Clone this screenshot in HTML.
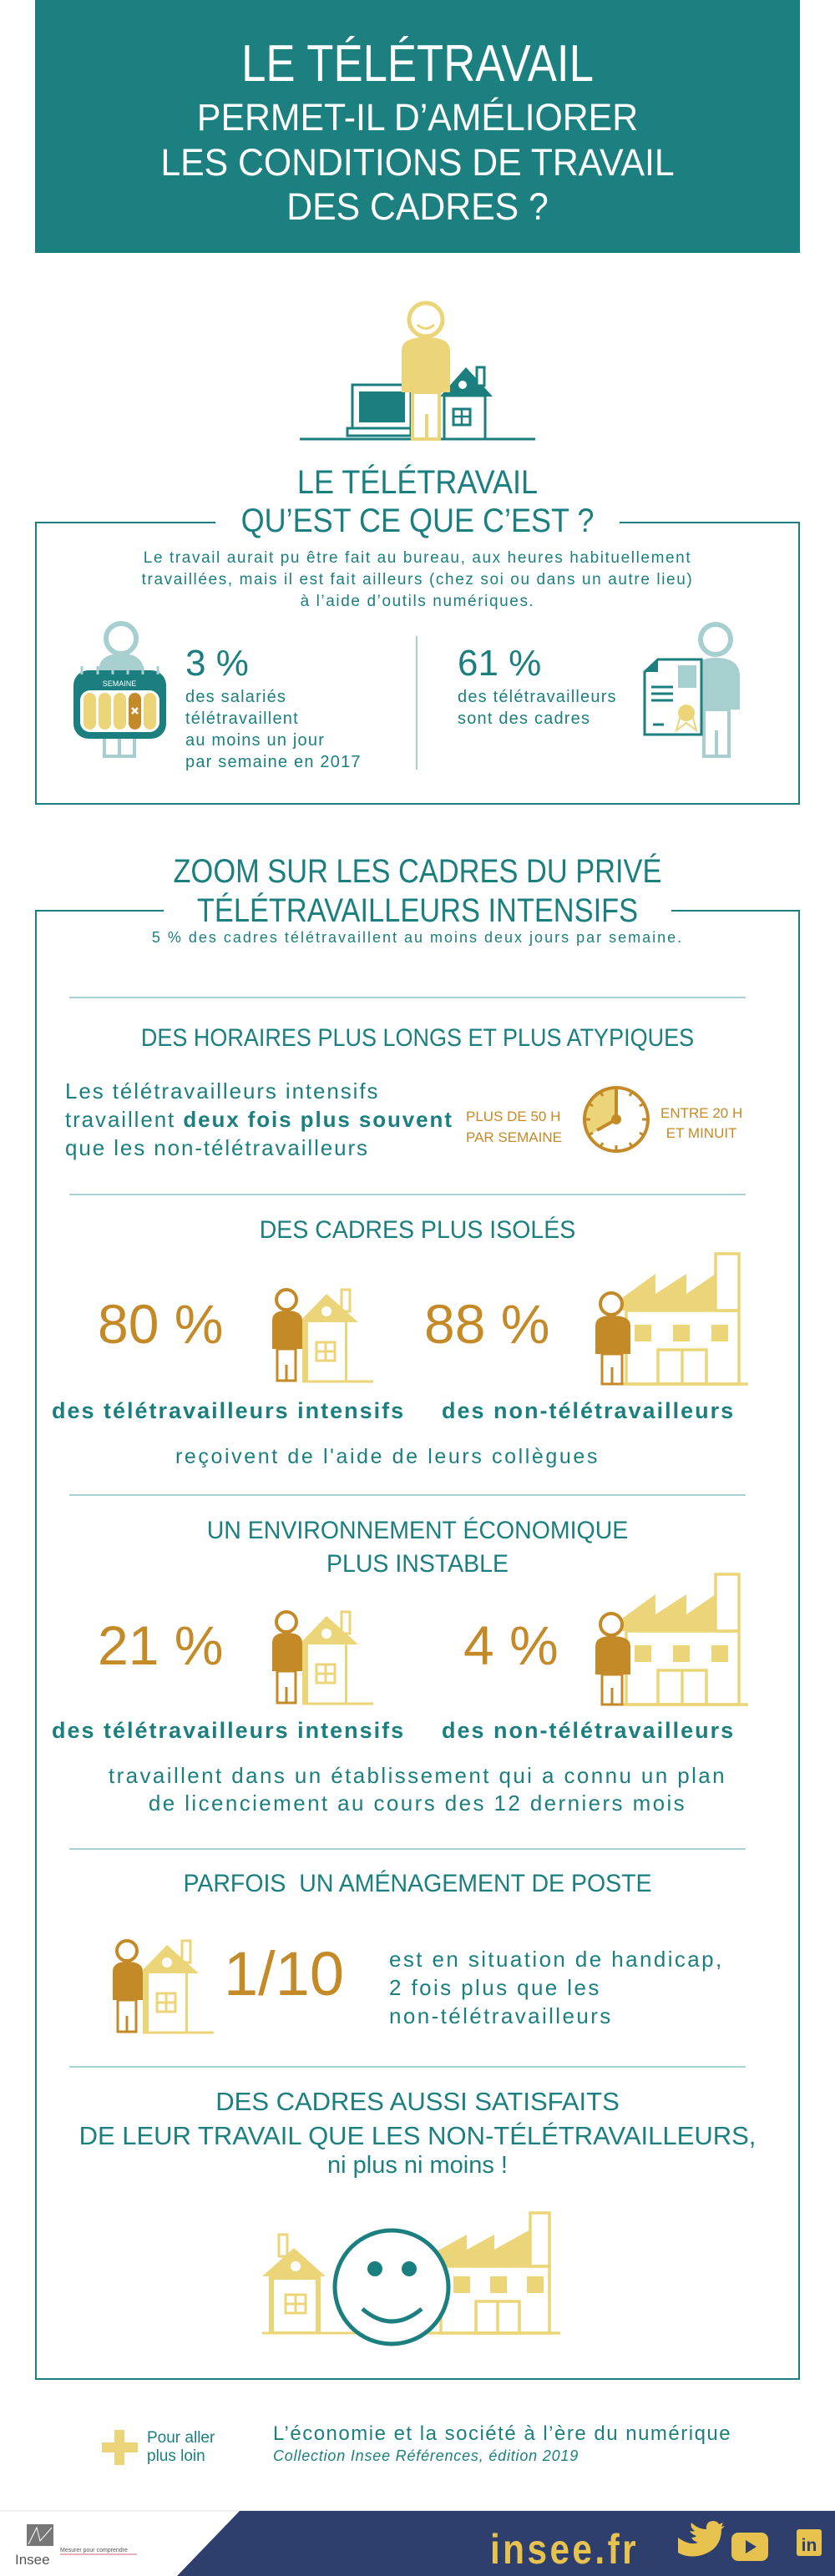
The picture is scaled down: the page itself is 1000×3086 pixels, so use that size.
<!DOCTYPE html>
<html><head><meta charset="utf-8">
<style>
*{margin:0;padding:0;box-sizing:border-box}
body{width:1000px;height:3086px;position:relative;background:#fff;font-family:"Liberation Sans",sans-serif;color:#1b7f80;overflow:hidden}
.a{position:absolute;white-space:nowrap;line-height:1}
.c{left:0;width:1000px;text-align:center}
.n{transform:scaleX(0.85);transform-origin:500px 0}
.k{transform:scaleX(0.9);transform-origin:500px 0}
.z{transform:scaleX(0.86);transform-origin:500px 0}
.m{transform:scaleX(0.95);transform-origin:500px 0}
.h{transform:scaleX(0.9);transform-origin:500px 0}
.g{color:#c48a27}
.hr{position:absolute;left:83px;width:810px;height:2px;background:#a7d2d3}
svg{position:absolute;left:0;top:0}
</style></head><body>

<div style="position:absolute;left:42px;top:0;width:916px;height:303px;background:#1d8080"></div>
<div class="a c n" style="top:46px;font-size:62px;color:#fff">LE TÉLÉTRAVAIL</div>
<div class="a c m" style="top:118px;font-size:45px;color:#fff">PERMET-IL D’AMÉLIORER</div>
<div class="a c m" style="top:172px;font-size:45px;color:#fff">LES CONDITIONS DE TRAVAIL</div>
<div class="a c m" style="top:225px;font-size:45px;color:#fff">DES CADRES ?</div>

<div class="a c k" style="top:558px;font-size:40px">LE TÉLÉTRAVAIL</div>
<div class="a c k" style="top:604px;font-size:40px">QU’EST CE QUE C’EST ?</div>
<div class="a c" style="top:656px;font-size:19px;line-height:26px;letter-spacing:1.6px">Le travail aurait pu être fait au bureau, aux heures habituellement<br>travaillées, mais il est fait ailleurs (chez soi ou dans un autre lieu)<br>à l’aide d’outils numériques.</div>
<div class="a" style="left:222px;top:773px;font-size:44px">3 %</div>
<div class="a" style="left:222px;top:822px;font-size:20px;line-height:26px;letter-spacing:1.2px">des salariés<br>télétravaillent<br>au moins un jour<br>par semaine en 2017</div>
<div class="a" style="left:548px;top:773px;font-size:44px">61 %</div>
<div class="a" style="left:548px;top:822px;font-size:20px;line-height:26px;letter-spacing:1.2px">des télétravailleurs<br>sont des cadres</div>

<div class="a c z" style="top:1024px;font-size:40px">ZOOM SUR LES CADRES DU PRIVÉ</div>
<div class="a c z" style="top:1071px;font-size:40px">TÉLÉTRAVAILLEURS INTENSIFS</div>
<div class="a c" style="top:1114px;font-size:18px;letter-spacing:2px">5 % des cadres télétravaillent au moins deux jours par semaine.</div>
<div class="hr" style="top:1194px"></div>
<div class="a c h" style="top:1229px;font-size:30px">DES HORAIRES PLUS LONGS ET PLUS ATYPIQUES</div>
<div class="a" style="left:78px;top:1290px;font-size:26px;line-height:34px;letter-spacing:1.9px">Les télétravailleurs intensifs<br>travaillent <b>deux fois plus souvent</b><br>que les non-télétravailleurs</div>
<div class="a g" style="left:558px;top:1325px;font-size:17px;line-height:25px">PLUS DE 50 H<br>PAR SEMAINE</div>
<div class="a g" style="left:791px;top:1322px;font-size:17px;line-height:24px;text-align:center">ENTRE 20 H<br>ET MINUIT</div>
<div class="hr" style="top:1430px"></div>
<div class="a c m" style="top:1459px;font-size:30px">DES CADRES PLUS ISOLÉS</div>
<div class="a g" style="left:117px;top:1553px;font-size:66px">80 %</div>
<div class="a g" style="left:508px;top:1553px;font-size:66px">88 %</div>
<div class="a" style="left:62px;top:1677px;font-size:27px;font-weight:bold;letter-spacing:2px">des télétravailleurs intensifs</div>
<div class="a" style="left:529px;top:1677px;font-size:27px;font-weight:bold;letter-spacing:2px">des non-télétravailleurs</div>
<div class="a" style="left:210px;top:1733px;font-size:25px;letter-spacing:2.6px">reçoivent de l'aide de leurs collègues</div>
<div class="hr" style="top:1790px"></div>
<div class="a c m" style="top:1819px;font-size:30px">UN ENVIRONNEMENT ÉCONOMIQUE</div>
<div class="a c m" style="top:1859px;font-size:30px">PLUS INSTABLE</div>
<div class="a g" style="left:117px;top:1938px;font-size:66px">21 %</div>
<div class="a g" style="left:555px;top:1938px;font-size:66px">4 %</div>
<div class="a" style="left:62px;top:2060px;font-size:27px;font-weight:bold;letter-spacing:2px">des télétravailleurs intensifs</div>
<div class="a" style="left:529px;top:2060px;font-size:27px;font-weight:bold;letter-spacing:2px">des non-télétravailleurs</div>
<div class="a c" style="top:2111px;font-size:26px;line-height:33px;letter-spacing:2.4px">travaillent dans un établissement qui a connu un plan<br>de licenciement au cours des 12 derniers mois</div>
<div class="hr" style="top:2214px"></div>
<div class="a c m" style="top:2242px;font-size:30px">PARFOIS&nbsp; UN AMÉNAGEMENT DE POSTE</div>
<div class="a g" style="left:268px;top:2328px;font-size:74px">1/10</div>
<div class="a" style="left:466px;top:2330px;font-size:26px;line-height:34px;letter-spacing:2.4px">est en situation de handicap,<br>2 fois plus que les<br>non-télétravailleurs</div>
<div class="hr" style="top:2475px"></div>
<div class="a c" style="top:2502px;font-size:31px">DES CADRES AUSSI SATISFAITS</div>
<div class="a c" style="top:2543px;font-size:31px">DE LEUR TRAVAIL QUE LES NON-TÉLÉTRAVAILLEURS,</div>
<div class="a c" style="top:2580px;font-size:29px">ni plus ni moins !</div>

<div class="a" style="left:176px;top:2910px;font-size:19px;line-height:22px">Pour aller<br>plus loin</div>
<div class="a" style="left:327px;top:2904px;font-size:24px;letter-spacing:1.5px">L’économie et la société à l’ère du numérique</div>
<div class="a" style="left:327px;top:2933px;font-size:18px;font-style:italic;letter-spacing:0.8px">Collection Insee Références, édition 2019</div>

<svg width="1000" height="3086" viewBox="0 0 1000 3086">
<defs>
<g id="house">
 <circle cx="24" cy="17" r="12" fill="none" stroke="#c48a27" stroke-width="4"/>
 <path d="M7 42 Q7 30 24 30 Q43 30 43 42 V76 H7Z" fill="#c48a27"/>
 <rect x="13" y="76" width="22" height="38" fill="none" stroke="#c48a27" stroke-width="3"/>
 <line x1="24" y1="95" x2="24" y2="114" stroke="#c48a27" stroke-width="3"/>
 <path d="M43 40 L72 10 L110 44 H97 V116 H43Z" fill="#ecd579"/>
 <rect x="50" y="44" width="44" height="70" fill="#fff"/>
 <rect x="90" y="5" width="10" height="26" fill="none" stroke="#ecd579" stroke-width="3"/>
 <circle cx="72" cy="31" r="6" fill="#fff"/>
 <rect x="60" y="68" width="22" height="22" fill="none" stroke="#ecd579" stroke-width="3"/>
 <line x1="71" y1="68" x2="71" y2="90" stroke="#ecd579" stroke-width="3"/>
 <line x1="60" y1="79" x2="82" y2="79" stroke="#ecd579" stroke-width="3"/>
 <line x1="43" y1="115" x2="128" y2="115" stroke="#ecd579" stroke-width="3"/>
</g>
<g id="fact">
 <rect x="157" y="12" width="28" height="68" fill="none" stroke="#ecd579" stroke-width="3.5"/>
 <path d="M45 65 L85 36 V60 L122 36 V60 L157 36 V80 H45Z" fill="#ecd579"/>
 <rect x="50" y="80" width="135" height="88" fill="none" stroke="#ecd579" stroke-width="3.5"/>
 <rect x="60" y="97" width="20" height="20" fill="#ecd579"/>
 <rect x="106" y="97" width="20" height="20" fill="#ecd579"/>
 <rect x="152" y="97" width="20" height="20" fill="#ecd579"/>
 <rect x="88" y="127" width="58" height="41" fill="none" stroke="#ecd579" stroke-width="3.5"/>
 <line x1="117" y1="127" x2="117" y2="168" stroke="#ecd579" stroke-width="3.5"/>
 <line x1="45" y1="168" x2="196" y2="168" stroke="#ecd579" stroke-width="3.5"/>
 <circle cx="32" cy="72" r="13" fill="#fff" stroke="#c48a27" stroke-width="4"/>
 <path d="M13 98 Q13 86 32 86 Q55 86 55 98 V132 H13Z" fill="#c48a27"/>
 <rect x="21" y="132" width="24" height="36" fill="none" stroke="#c48a27" stroke-width="3"/>
 <line x1="33" y1="148" x2="33" y2="168" stroke="#c48a27" stroke-width="3"/>
</g>
</defs>
<path d="M258 626 H43 V963 H957 V626 H742" fill="none" stroke="#1b7f80" stroke-width="2"/>
<path d="M196 1091 H43 V2850 H957 V1091 H804" fill="none" stroke="#1b7f80" stroke-width="2"/>
<line x1="499" y1="762" x2="499" y2="922" stroke="#a7cfd0" stroke-width="2"/>
<line x1="359" y1="526" x2="641" y2="526" stroke="#1b7f80" stroke-width="3"/>
<rect x="422" y="461" width="70" height="52" fill="none" stroke="#1b7f80" stroke-width="3"/>
<rect x="430" y="469" width="55" height="37" fill="#1b7f80"/>
<rect x="416" y="513" width="76" height="9" fill="none" stroke="#1b7f80" stroke-width="3"/>
<path d="M527 475 L558 440 L590 475Z" fill="#1b7f80"/>
<rect x="571" y="440" width="9" height="22" fill="#fff" stroke="#1b7f80" stroke-width="3"/>
<circle cx="554" cy="461" r="5" fill="#fff"/>
<rect x="532" y="474" width="49" height="52" fill="none" stroke="#1b7f80" stroke-width="3"/>
<rect x="543" y="490" width="20" height="19" fill="none" stroke="#1b7f80" stroke-width="3"/>
<line x1="553" y1="490" x2="553" y2="509" stroke="#1b7f80" stroke-width="2.5"/>
<line x1="543" y1="499" x2="563" y2="499" stroke="#1b7f80" stroke-width="2.5"/>
<circle cx="510" cy="383" r="20" fill="#fff" stroke="#ecd579" stroke-width="5"/>
<path d="M500 389 Q510 398 520 389" fill="none" stroke="#ecd579" stroke-width="3"/>
<path d="M481 420 Q481 404 510 404 Q539 404 539 420 V470 H481Z" fill="#ecd579"/>
<rect x="494" y="470" width="32" height="56" fill="none" stroke="#ecd579" stroke-width="4"/>
<line x1="511" y1="496" x2="511" y2="526" stroke="#ecd579" stroke-width="4"/>
<circle cx="145" cy="765" r="18" fill="none" stroke="#a7cfd0" stroke-width="6"/>
<path d="M118 805 Q118 783 145 783 Q172 783 172 805Z" fill="#a7cfd0"/>
<rect x="125" y="882" width="36" height="24" fill="none" stroke="#a7cfd0" stroke-width="4"/>
<line x1="143" y1="882" x2="143" y2="906" stroke="#a7cfd0" stroke-width="4"/>
<rect x="88" y="803" width="111" height="82" rx="18" fill="#1b7f80"/>
<g stroke="#a7cfd0" stroke-width="3"><line x1="98" y1="798" x2="98" y2="808"/><line x1="117" y1="798" x2="117" y2="808"/><line x1="135" y1="798" x2="135" y2="808"/><line x1="153" y1="798" x2="153" y2="808"/><line x1="171" y1="798" x2="171" y2="808"/><line x1="189" y1="798" x2="189" y2="808"/></g>
<text x="143" y="822" font-family="Liberation Sans" font-size="9" fill="#fff" text-anchor="middle">SEMAINE</text>
<rect x="96" y="827" width="95" height="50" rx="12" fill="#fff"/>
<g fill="#ecd579"><rect x="100" y="830" width="15" height="44" rx="7.5"/><rect x="118" y="830" width="15" height="44" rx="7.5"/><rect x="136" y="830" width="15" height="44" rx="7.5"/><rect x="172" y="830" width="15" height="44" rx="7.5"/></g>
<rect x="154" y="830" width="15" height="44" rx="7.5" fill="#c48a27"/>
<path d="M158 848 L165 855 M165 848 L158 855" stroke="#fff" stroke-width="2.5"/>
<circle cx="857" cy="766" r="18" fill="none" stroke="#a7cfd0" stroke-width="6"/>
<path d="M830 810 Q830 788 857 788 Q886 788 886 810 V850 H830Z" fill="#a7cfd0"/>
<rect x="843" y="850" width="30" height="56" fill="none" stroke="#a7cfd0" stroke-width="4"/>
<line x1="858" y1="875" x2="858" y2="906" stroke="#a7cfd0" stroke-width="4"/>
<path d="M772 805 L788 790 H840 V880 H772Z" fill="#fff" stroke="#1b7f80" stroke-width="3"/>
<path d="M772 805 L788 790 V805Z" fill="#1b7f80"/>
<rect x="812" y="797" width="22" height="27" fill="#a7cfd0"/>
<g stroke="#1b7f80" stroke-width="3"><line x1="780" y1="823" x2="806" y2="823"/><line x1="780" y1="831" x2="806" y2="831"/><line x1="780" y1="839" x2="806" y2="839"/><line x1="782" y1="868" x2="795" y2="868"/></g>
<circle cx="822" cy="854" r="10" fill="#ecd579"/>
<path d="M814 860 L810 875 L822 866 L834 875 L830 860" fill="none" stroke="#ecd579" stroke-width="2"/>
<path d="M738 1341 L738 1303 A38 38 0 0 0 705 1360Z" fill="#ecd579"/>
<circle cx="738" cy="1341" r="38" fill="none" stroke="#c48a27" stroke-width="4"/>
<g stroke="#c48a27" stroke-width="3"><line x1="738" y1="1303" x2="738" y2="1310"/><line x1="738" y1="1372" x2="738" y2="1379"/><line x1="700" y1="1341" x2="707" y2="1341"/><line x1="769" y1="1341" x2="776" y2="1341"/><line x1="757" y1="1308" x2="754" y2="1313"/><line x1="771" y1="1322" x2="766" y2="1325"/><line x1="771" y1="1360" x2="766" y2="1357"/><line x1="757" y1="1374" x2="754" y2="1369"/><line x1="719" y1="1374" x2="722" y2="1369"/><line x1="705" y1="1360" x2="710" y2="1357"/><line x1="705" y1="1322" x2="710" y2="1325"/><line x1="719" y1="1308" x2="722" y2="1313"/></g>
<line x1="738" y1="1341" x2="738" y2="1305" stroke="#c48a27" stroke-width="4"/>
<line x1="738" y1="1341" x2="715" y2="1354" stroke="#c48a27" stroke-width="4"/>
<circle cx="738" cy="1341" r="6" fill="#c48a27"/>
<use href="#house" x="319" y="1540"/>
<use href="#fact" x="700" y="1490"/>
<use href="#house" x="319" y="1926"/>
<use href="#fact" x="700" y="1874"/>
<use href="#house" x="128" y="2320"/>
<g transform="translate(314,2667)">
 <path d="M0 60 L38 26 L76 60 H70 V128 H8 V60Z" fill="#ecd579"/>
 <rect x="14" y="64" width="50" height="62" fill="#fff"/>
 <rect x="20" y="10" width="10" height="26" fill="#fff" stroke="#ecd579" stroke-width="3"/>
 <circle cx="40" cy="48" r="6" fill="#fff"/>
 <rect x="28" y="82" width="24" height="22" fill="none" stroke="#ecd579" stroke-width="3"/>
 <line x1="40" y1="82" x2="40" y2="104" stroke="#ecd579" stroke-width="3"/>
 <line x1="28" y1="93" x2="52" y2="93" stroke="#ecd579" stroke-width="3"/>
 <line x1="0" y1="128" x2="200" y2="128" stroke="#ecd579" stroke-width="3"/>
</g>
<g transform="translate(523,2647)">
 <rect x="112" y="4" width="23" height="64" fill="none" stroke="#ecd579" stroke-width="3.5"/>
 <path d="M0 50 L36 30 V48 L69 30 V48 L112 24 V68 H0Z" fill="#ecd579"/>
 <rect x="5" y="68" width="130" height="80" fill="none" stroke="#ecd579" stroke-width="3.5"/>
 <rect x="20" y="80" width="20" height="20" fill="#ecd579"/><rect x="64" y="80" width="20" height="20" fill="#ecd579"/><rect x="108" y="80" width="20" height="20" fill="#ecd579"/>
 <rect x="47" y="110" width="52" height="38" fill="none" stroke="#ecd579" stroke-width="3.5"/>
 <line x1="73" y1="110" x2="73" y2="148" stroke="#ecd579" stroke-width="3.5"/>
 <line x1="-10" y1="148" x2="148" y2="148" stroke="#ecd579" stroke-width="3.5"/>
</g>
<circle cx="469" cy="2740" r="68" fill="#fff" stroke="#1b7f80" stroke-width="5"/>
<circle cx="449" cy="2718" r="9" fill="#1b7f80"/><circle cx="490" cy="2718" r="9" fill="#1b7f80"/>
<path d="M434 2766 Q469 2796 505 2766" fill="none" stroke="#1b7f80" stroke-width="5"/>
<rect x="137" y="2911" width="12" height="42" fill="#ecd579"/>
<rect x="122" y="2926" width="43" height="12" fill="#ecd579"/>
<line x1="0" y1="3008" x2="1000" y2="3008" stroke="#e6e6e6" stroke-width="1"/>
<path d="M287 3008 H1000 V3086 H212Z" fill="#2e3f6e"/>
<rect x="32" y="3024" width="32" height="26" fill="#777"/>
<path d="M34 3048 L44 3028 L48 3044 L62 3028" fill="none" stroke="#fff" stroke-width="1"/>
<text x="18" y="3072" font-family="Liberation Sans" font-size="17" fill="#555">Insee</text>
<text x="72" y="3057" font-family="Liberation Sans" font-size="7" fill="#555">Mesurer pour comprendre</text>
<line x1="72" y1="3060" x2="164" y2="3060" stroke="#d4607a" stroke-width="1"/>
<text x="587" y="3071" font-family="Liberation Sans" font-size="50" font-weight="bold" fill="#e8c24e" letter-spacing="4" textLength="178" lengthAdjust="spacingAndGlyphs">insee.fr</text>
<path d="M812 3040 Q826 3050 836 3046 Q830 3044 828 3040 Q832 3040 834 3038 Q828 3036 826 3032 Q830 3033 832 3032 Q826 3028 828 3022 Q836 3030 846 3030 Q845 3020 855 3020 Q860 3021 861 3024 L866 3022 L864 3027 L868 3026 L864 3030 Q864 3056 836 3062 Q822 3064 812 3058Z" fill="#e8c24e"/>
<rect x="876" y="3034" width="44" height="34" rx="8" fill="#e8c24e"/>
<path d="M893 3043 L906 3051 L893 3059Z" fill="#2e3f6e"/>
<rect x="954" y="3030" width="30" height="32" rx="3" fill="#e8c24e"/>
<text x="969" y="3056" font-family="Liberation Sans" font-size="21" font-weight="bold" fill="#2e3f6e" text-anchor="middle">in</text>
</svg>
</body></html>
